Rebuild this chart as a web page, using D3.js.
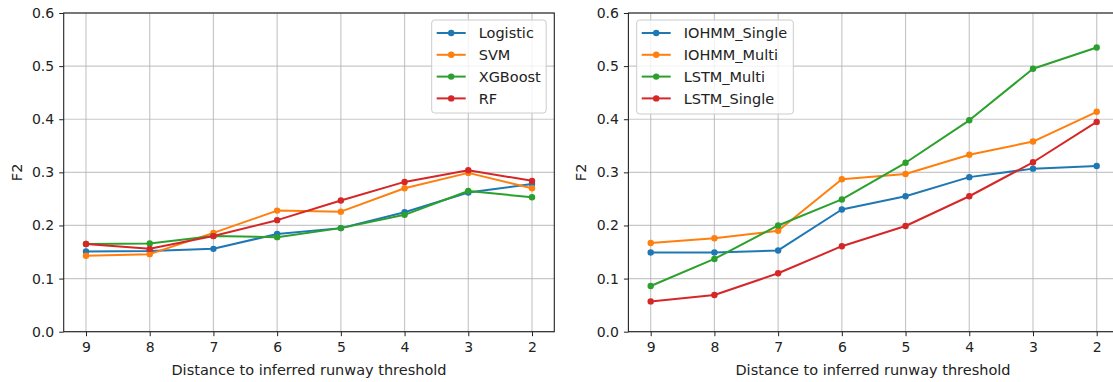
<!DOCTYPE html>
<html>
<head>
<meta charset="utf-8">
<script src="https://cdn.jsdelivr.net/npm/d3@7"></script>
<style>
  body { margin: 0; background: #fff; }
  svg { display: block; font-family: "DejaVu Sans", sans-serif; }
</style>
</head>
<body>
<div id="chart"></div>
<script>
// distances along the x axis (shown reversed, 9 -> 2)
const distances = [9, 8, 7, 6, 5, 4, 3, 2];
const yTicks = [0.0, 0.1, 0.2, 0.3, 0.4, 0.5, 0.6];

// left panel: classical models
const logistic = [0.151, 0.152, 0.156, 0.184, 0.195, 0.225, 0.262, 0.278];
const svm      = [0.143, 0.146, 0.186, 0.228, 0.226, 0.270, 0.299, 0.270];
const xgboost  = [0.165, 0.166, 0.180, 0.178, 0.195, 0.220, 0.265, 0.253];
const rf       = [0.165, 0.156, 0.180, 0.210, 0.247, 0.282, 0.304, 0.284];

// right panel: sequence models
const iohmmSingle = [0.149, 0.149, 0.153, 0.230, 0.255, 0.291, 0.307, 0.312];
const iohmmMulti  = [0.167, 0.176, 0.190, 0.287, 0.297, 0.333, 0.358, 0.414];
const lstmMulti   = [0.086, 0.137, 0.200, 0.249, 0.318, 0.398, 0.495, 0.535];
const lstmSingle  = [0.057, 0.069, 0.110, 0.161, 0.199, 0.255, 0.319, 0.395];

const colors = ["#1f77b4", "#ff7f0e", "#2ca02c", "#d62728"];

const width = 1113, height = 382;
const svg = d3.select("#chart").append("svg")
  .attr("width", width)
  .attr("height", height);

const panels = [
  {
    left: 63.7, right: 554.3, labelX: 309,
    names: ["Logistic", "SVM", "XGBoost", "RF"],
    series: [logistic, svm, xgboost, rf],
    legend: { x: 431.7, y: 20, w: 114.5, h: 93, lineX: 5, textX: 47 }
  },
  {
    left: 628.4, right: 1119, labelX: 873,
    names: ["IOHMM_Single", "IOHMM_Multi", "LSTM_Multi", "LSTM_Single"],
    series: [iohmmSingle, iohmmMulti, lstmMulti, lstmSingle],
    legend: { x: 636.7, y: 20, w: 156.6, h: 94, lineX: 5, textX: 47 }
  }
];

const plotTop = 13, plotBottom = 331.7;
const fontSize = "14.5px";
const tickFontSize = "14px";

panels.forEach(p => {
  const g = svg.append("g");

  // x: 9..2 with 5% margins like matplotlib
  const x = d3.scaleLinear()
    .domain([9.35, 1.65])
    .range([p.left, p.right]);
  const y = d3.scaleLinear()
    .domain([0, 0.6])
    .range([plotBottom, plotTop]);

  // grid
  g.append("g")
    .selectAll("line")
    .data(distances)
    .enter().append("line")
    .attr("x1", d => x(d)).attr("x2", d => x(d))
    .attr("y1", plotTop).attr("y2", plotBottom)
    .attr("stroke", "#b0b0b0").attr("stroke-opacity", 0.7)
    .attr("stroke-width", 1.2);
  g.append("g")
    .selectAll("line")
    .data(yTicks)
    .enter().append("line")
    .attr("x1", p.left).attr("x2", p.right)
    .attr("y1", d => y(d)).attr("y2", d => y(d))
    .attr("stroke", "#b0b0b0").attr("stroke-opacity", 0.7)
    .attr("stroke-width", 1.2);

  // series lines + markers
  const line = d3.line()
    .x((d, i) => x(distances[i]))
    .y(d => y(d));

  p.series.forEach((vals, k) => {
    g.append("path")
      .datum(vals)
      .attr("d", line)
      .attr("fill", "none")
      .attr("stroke", colors[k])
      .attr("stroke-width", 2)
      .attr("stroke-linejoin", "round");
    g.append("g")
      .selectAll("circle")
      .data(vals)
      .enter().append("circle")
      .attr("cx", (d, i) => x(distances[i]))
      .attr("cy", d => y(d))
      .attr("r", 3.2)
      .attr("fill", colors[k]);
  });

  // axes
  const xAxis = d3.axisBottom(x)
    .tickValues(distances)
    .tickFormat(d3.format("d"))
    .tickSize(4.5)
    .tickPadding(6);
  const yAxis = d3.axisLeft(y)
    .tickValues(yTicks)
    .tickFormat(d3.format(".1f"))
    .tickSize(4.5)
    .tickPadding(5);

  const gx = g.append("g")
    .attr("transform", `translate(0,${plotBottom})`)
    .call(xAxis);
  const gy = g.append("g")
    .attr("transform", `translate(${p.left},0)`)
    .call(yAxis);
  [gx, gy].forEach(a => {
    a.select(".domain").remove();
    a.selectAll("line").attr("stroke", "#222").attr("stroke-width", 1);
    a.selectAll("text")
      .attr("fill", "#222")
      .style("font-size", tickFontSize)
      .style("font-family", "DejaVu Sans");
  });

  // frame
  g.append("rect")
    .attr("x", p.left).attr("y", plotTop)
    .attr("width", p.right - p.left).attr("height", plotBottom - plotTop)
    .attr("fill", "none")
    .attr("stroke", "#222")
    .attr("stroke-width", 1.1);

  // axis labels
  g.append("text")
    .attr("x", p.labelX)
    .attr("y", 375)
    .attr("text-anchor", "middle")
    .attr("fill", "#222")
    .style("font-size", fontSize)
    .text("Distance to inferred runway threshold");
  g.append("text")
    .attr("transform", `translate(${p.left - 42},${(plotTop + plotBottom) / 2}) rotate(-90)`)
    .attr("text-anchor", "middle")
    .attr("fill", "#222")
    .style("font-size", fontSize)
    .text("F2");

  // legend
  const L = p.legend;
  const lg = g.append("g").attr("transform", `translate(${L.x},${L.y})`);
  lg.append("rect")
    .attr("width", L.w).attr("height", L.h)
    .attr("rx", 3)
    .attr("fill", "#fff").attr("fill-opacity", 0.8)
    .attr("stroke", "#ccc").attr("stroke-width", 1);
  p.names.forEach((name, k) => {
    const ry = 13 + k * 21.8;
    lg.append("line")
      .attr("x1", L.lineX).attr("x2", L.lineX + 29)
      .attr("y1", ry).attr("y2", ry)
      .attr("stroke", colors[k]).attr("stroke-width", 2);
    lg.append("circle")
      .attr("cx", L.lineX + 14.5).attr("cy", ry).attr("r", 3.2)
      .attr("fill", colors[k]);
    lg.append("text")
      .attr("x", L.textX).attr("y", ry)
      .attr("dy", "0.36em")
      .attr("fill", "#222")
      .style("font-size", fontSize)
      .text(name);
  });
});
</script>
</body>
</html>
